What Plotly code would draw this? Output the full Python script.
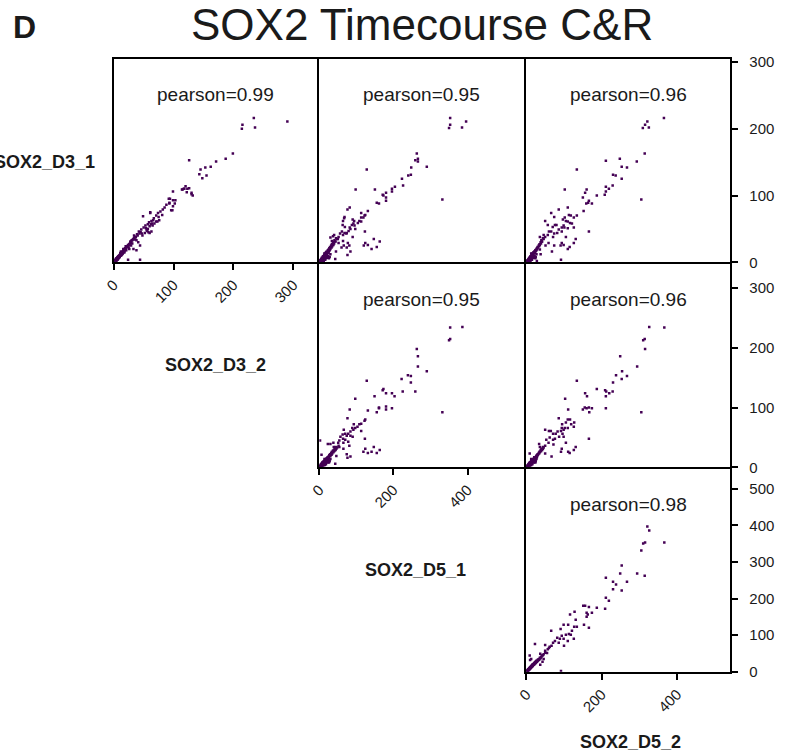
import plotly.graph_objects as go

# ---- sample names and correlation labels ----
samples = ["SOX2_D3_1", "SOX2_D3_2", "SOX2_D5_1", "SOX2_D5_2"]
pearson = [0.99, 0.95, 0.96, 0.95, 0.96, 0.98]

# ---- low-signal regions shared by all samples (D3_1, D3_2, D5_1, D5_2) ----
low_d3_1 = [1, 2, 2, 3, 3, 4, 4, 5, 5, 6, 6, 7, 7, 8, 8, 9, 9, 10, 10, 11, 11, 12, 12, 13, 13, 14, 15, 15, 16, 17,
            18, 18, 19, 20, 21, 22, 23, 24, 25, 26, 27, 28, 30, 31, 33, 35, 36, 38, 1, 2, 3, 4, 5, 6, 7, 8, 9, 10, 12, 14,
            1, 3, 5, 2, 4, 6, 8, 3, 7, 10, 2, 5, 9, 4, 11, 6, 13, 8, 15, 12]
low_d3_2 = [1, 1, 3, 2, 4, 3, 5, 4, 6, 5, 7, 6, 8, 7, 9, 8, 10, 9, 11, 10, 12, 11, 13, 12, 14, 13, 14, 16, 15, 16,
            17, 19, 18, 19, 20, 21, 22, 23, 24, 25, 26, 27, 28, 29, 31, 33, 34, 36, 2, 3, 2, 5, 4, 7, 6, 9, 8, 11, 11, 13,
            2, 4, 4, 3, 6, 5, 9, 5, 8, 12, 4, 7, 10, 6, 13, 8, 14, 10, 17, 14]
low_d5_1 = [2, 1, 4, 3, 6, 4, 7, 9, 6, 10, 8, 11, 9, 13, 10, 15, 12, 14, 17, 13, 18, 16, 19, 15, 21, 22, 18, 24, 20, 26,
            23, 28, 25, 30, 27, 33, 29, 35, 32, 38, 34, 40, 37, 44, 41, 48, 45, 52, 3, 5, 2, 8, 5, 12, 7, 14, 10, 16, 20, 25,
            6, 11, 15, 9, 13, 18, 20, 4, 22, 17, 12, 8, 24, 16, 19, 26, 14, 28, 23, 30]
low_d5_2 = [1, 2, 3, 4, 5, 5, 8, 8, 7, 9, 9, 10, 10, 12, 11, 14, 13, 15, 16, 14, 17, 17, 18, 16, 20, 21, 19, 23, 21, 25,
            24, 27, 26, 29, 28, 31, 30, 34, 33, 36, 35, 39, 38, 42, 40, 46, 44, 50, 4, 4, 3, 7, 6, 11, 8, 13, 11, 15, 18, 23,
            5, 10, 13, 9, 12, 16, 19, 6, 20, 15, 11, 8, 22, 15, 17, 24, 13, 25, 21, 27]
low = {"SOX2_D3_1": low_d3_1, "SOX2_D3_2": low_d3_2, "SOX2_D5_1": low_d5_1, "SOX2_D5_2": low_d5_2}

# ---- higher-signal regions per sample pair: (x value, y value) ----
d3_2_vs_d3_1 = [
    (234, 216), (290, 211), (215, 206), (214, 200), (236, 202), (199, 163), (187, 155), (171, 151), (162, 143),
    (153, 142), (145, 139), (126, 153), (143, 132), (155, 130), (148, 126), (130, 104), (132, 100), (126, 111),
    (123, 110), (118, 110), (115, 109), (99, 106), (103, 93), (94, 95), (93, 89), (99, 84), (96, 78), (82, 79),
    (81, 71), (75, 68), (73, 61), (49, 69), (61, 74), (66, 63), (68, 58), (60, 54), (57, 50), (63, 46), (45, 45),
    (40, 40), (35, 38), (32, 34), (29, 30), (24, 26), (19, 21), (12, 16), (44, 25), (24, 4), (44, 4), (34, 40),
    (52, 44), (56, 47), (60, 44), (48, 40), (38, 33), (41, 30), (29, 25), (26, 20), (21, 18), (15, 13), (10, 10),
    (6, 7), (61, 75), (76, 63), (71, 61), (64, 58), (57, 57), (65, 55), (55, 48), (58, 45), (43, 43), (37, 38),
    (30, 33), (33, 20), (38, 18), (99, 93), (92, 95), (93, 88), (98, 78), (102, 88), (114, 109), (120, 114),
    (122, 105), (130, 102), (117, 110), (50, 52), (53, 55), (63, 62), (67, 66), (71, 70), (74, 74), (78, 76),
    (85, 82), (88, 86), (20, 24), (25, 22), (16, 20), (28, 31), (36, 34), (42, 46), (47, 43), (54, 51), (11, 14),
    (18, 15), (31, 28), (39, 42), (46, 49), (59, 60), (62, 57),
]
d5_1_vs_d3_1 = [
    (353, 216), (353, 206), (350, 201), (385, 202), (396, 211), (263, 163), (266, 155), (259, 153), (266, 151),
    (290, 143), (248, 142), (247, 131), (240, 130), (223, 125), (226, 115), (204, 113), (196, 110), (196, 106),
    (180, 104), (171, 101), (173, 100), (180, 97), (180, 92), (155, 89), (161, 88), (128, 139), (150, 109),
    (98, 109), (332, 94), (131, 77), (113, 74), (124, 71), (122, 70), (119, 67), (113, 67), (82, 82), (76, 79),
    (68, 68), (67, 66), (90, 64), (94, 62), (108, 62), (104, 59), (113, 61), (64, 62), (63, 56), (69, 53),
    (82, 52), (88, 56), (92, 58), (95, 55), (84, 50), (97, 50), (79, 47), (74, 44), (68, 44), (61, 46), (56, 43),
    (64, 41), (73, 43), (90, 38), (123, 46), (40, 41), (30, 37), (37, 39), (50, 35), (64, 32), (52, 29), (41, 31),
    (34, 32), (77, 29), (81, 25), (66, 25), (74, 22), (60, 22), (45, 16), (84, 16), (76, 11), (124, 29),
    (131, 26), (147, 35), (163, 31), (155, 23), (141, 20), (120, 25), (43, 5),
]
d5_2_vs_d3_1 = [
    (365, 216), (321, 211), (315, 206), (325, 202), (309, 201), (314, 163), (293, 151), (248, 155), (211, 152),
    (253, 143), (267, 142), (134, 139), (230, 131), (237, 130), (253, 125), (229, 115), (211, 113), (219, 110),
    (211, 106), (208, 101), (187, 100), (160, 109), (156, 104), (102, 109), (150, 97), (166, 92), (164, 89),
    (159, 88), (174, 88), (305, 94), (152, 77), (110, 82), (86, 79), (134, 70), (113, 71), (118, 70), (126, 67),
    (102, 67), (66, 74), (74, 68), (97, 64), (105, 62), (110, 61), (116, 59), (121, 58), (50, 62), (57, 56),
    (76, 56), (80, 56), (70, 53), (99, 55), (94, 52), (110, 51), (126, 52), (101, 52), (86, 49), (94, 46),
    (82, 44), (60, 46), (66, 46), (74, 43), (57, 41), (46, 41), (71, 38), (166, 46), (105, 38), (131, 35),
    (126, 29), (94, 29), (91, 25), (99, 26), (115, 23), (110, 20), (74, 25), (68, 16), (51, 25), (38, 12),
    (36, 38), (92, 4), (28, 2), (41, 31), (36, 19), (59, 29),
]
d5_1_vs_d3_2 = [
    (386, 235), (353, 234), (353, 215), (350, 213), (263, 198), (266, 186), (266, 169), (290, 161), (222, 148),
    (128, 145), (239, 154), (247, 153), (247, 142), (225, 127), (259, 127), (171, 129), (173, 131), (149, 119),
    (180, 124), (196, 124), (203, 119), (97, 115), (332, 92), (161, 100), (161, 99), (180, 102), (180, 97),
    (196, 99), (155, 92), (131, 95), (82, 97), (76, 82), (124, 80), (122, 78), (113, 73), (108, 72), (103, 68),
    (93, 72), (89, 66), (97, 66), (113, 61), (92, 63), (84, 60), (78, 56), (66, 63), (63, 55), (70, 56), (74, 53),
    (84, 53), (64, 48), (57, 51), (54, 45), (70, 46), (78, 43), (90, 51), (123, 48), (81, 36), (65, 41), (51, 41),
    (54, 34), (38, 41), (23, 39), (30, 39), (39, 34), (46, 31), (41, 28), (65, 31), (46, 19), (76, 16), (84, 18),
    (74, 22), (124, 31), (147, 34), (163, 29), (119, 26), (131, 24), (141, 26), (155, 24), (43, 6), (2, 45),
    (6, 21),
]
d5_2_vs_d3_2 = [
    (326, 235), (366, 234), (310, 213), (314, 215), (315, 198), (249, 186), (294, 169), (254, 161), (267, 153),
    (238, 154), (253, 148), (134, 145), (230, 142), (187, 131), (209, 129), (212, 127), (229, 127), (220, 124),
    (211, 119), (156, 124), (161, 119), (103, 115), (150, 97), (155, 100), (160, 99), (166, 100), (174, 99),
    (167, 92), (211, 99), (305, 92), (111, 97), (86, 82), (116, 80), (110, 80), (127, 75), (105, 75), (95, 72),
    (119, 72), (126, 68), (110, 66), (102, 66), (94, 66), (99, 63), (83, 60), (92, 61), (71, 56), (78, 56),
    (50, 63), (60, 61), (65, 61), (87, 51), (99, 51), (96, 56), (76, 48), (71, 46), (62, 50), (53, 46), (59, 41),
    (72, 38), (105, 41), (166, 48), (131, 34), (126, 29), (94, 31), (92, 26), (111, 26), (115, 24), (67, 18),
    (50, 23), (44, 31), (34, 39), (36, 34), (39, 29), (9, 23), (28, 17),
]
d5_2_vs_d5_1 = [
    (321, 397), (326, 386), (366, 353), (315, 353), (310, 350), (305, 331), (253, 290), (249, 268), (294, 268),
    (314, 262), (211, 257), (230, 246), (267, 246), (238, 238), (230, 225), (253, 222), (211, 202), (219, 194),
    (209, 172), (151, 180), (156, 180), (166, 177), (187, 175), (160, 161), (163, 156), (174, 161), (160, 150),
    (128, 164), (116, 156), (131, 142), (111, 128), (99, 128), (127, 123), (153, 128), (166, 120), (134, 123),
    (91, 117), (121, 112), (105, 101), (113, 103), (118, 101), (126, 90), (66, 112), (94, 98), (110, 84),
    (99, 90), (89, 90), (82, 93), (100, 71), (86, 79), (71, 79), (76, 84), (67, 71), (62, 68), (50, 73), (60, 65),
    (57, 61), (50, 57), (55, 51), (37, 49), (23, 76), (46, 35), (37, 19), (43, 27), (9, 44), (13, 35), (92, 2),
    (10, 32),
]

# panel layout: (row, col, x sample, y sample, higher-signal pairs)
panels = [
    (1, 1, "SOX2_D3_2", "SOX2_D3_1", d3_2_vs_d3_1),
    (1, 2, "SOX2_D5_1", "SOX2_D3_1", d5_1_vs_d3_1),
    (1, 3, "SOX2_D5_2", "SOX2_D3_1", d5_2_vs_d3_1),
    (2, 2, "SOX2_D5_1", "SOX2_D3_2", d5_1_vs_d3_2),
    (2, 3, "SOX2_D5_2", "SOX2_D3_2", d5_2_vs_d3_2),
    (3, 3, "SOX2_D5_2", "SOX2_D5_1", d5_2_vs_d5_1),
]

# axis extents for each sample
axis_max = {"SOX2_D3_1": 304, "SOX2_D3_2": 340, "SOX2_D5_1": 553, "SOX2_D5_2": 541}

W, H = 786, 755
LW = 2.0  # frame line width; neighbouring plot areas are spaced by one line width so shared edges coincide
col_px = {1: (113.7, 317.3), 2: (319.3, 524.3), 3: (526.3, 730.3)}
row_px = {1: (59.3, 262.3), 2: (264.3, 467.3), 3: (469.3, 671.7)}

FONT = "Liberation Sans, Arial, sans-serif"
INK = "#1a1a1a"
POINT = "#440154"

fig = go.Figure()
layout = dict(
    template="none",
    width=W, height=H,
    margin=dict(l=0, r=0, t=0, b=0, autoexpand=False),
    paper_bgcolor="white", plot_bgcolor="white",
    showlegend=False,
    font=dict(family=FONT, color=INK),
)
annotations = []

x_ticks = {1: [0, 100, 200, 300], 4: [0, 200, 400], 6: [0, 200, 400]}
y_ticks = {3: [0, 100, 200, 300], 5: [0, 100, 200, 300], 6: [0, 100, 200, 300, 400, 500]}

for i, (row, col, xs, ys, pairs) in enumerate(panels, start=1):
    sfx = "" if i == 1 else str(i)
    px_vals = [p[0] for p in pairs] + low[xs]
    py_vals = [p[1] for p in pairs] + low[ys]
    fig.add_trace(go.Scatter(
        x=px_vals, y=py_vals, mode="markers",
        marker=dict(symbol="square", size=2.5, color=POINT, line=dict(width=0)),
        xaxis=f"x{sfx}", yaxis=f"y{sfx}", hoverinfo="skip",
    ))
    x0, x1 = col_px[col]
    y0, y1 = row_px[row]
    xa = dict(
        domain=[x0 / W, x1 / W], anchor=f"y{sfx}", range=[0, axis_max[xs]],
        showgrid=False, zeroline=False, showline=True, mirror=True, automargin=False,
        linecolor="black", linewidth=LW,
    )
    if i in x_ticks:
        xa.update(tickvals=x_ticks[i], ticks="outside", ticklen=6, tickwidth=1.5,
                  tickcolor="black", tickangle=-45, showticklabels=True,
                  tickfont=dict(size=15, family=FONT, color=INK))
    else:
        xa.update(showticklabels=False, ticks="")
    ya = dict(
        domain=[1 - y1 / H, 1 - y0 / H], anchor=f"x{sfx}", range=[0, axis_max[ys]],
        showgrid=False, zeroline=False, showline=True, mirror=True, automargin=False,
        linecolor="black", linewidth=LW,
    )
    if i in y_ticks:
        ya.update(side="right", tickvals=y_ticks[i], ticks="outside", ticklen=6, tickwidth=1.5,
                  tickcolor="black", showticklabels=True, ticklabelstandoff=8,
                  tickfont=dict(size=15, family=FONT, color=INK))
    else:
        ya.update(showticklabels=False, ticks="")
    layout[f"xaxis{sfx}"] = xa
    layout[f"yaxis{sfx}"] = ya
    annotations.append(dict(
        text=f"pearson={pearson[i - 1]:.2f}", xref=f"x{sfx} domain", yref=f"y{sfx} domain",
        x=0.5, y=0.826, xanchor="center", yanchor="middle", showarrow=False,
        font=dict(size=19, family=FONT, color=INK),
    ))

# title and panel letter
annotations.append(dict(text="SOX2 Timecourse C&R", xref="paper", yref="paper",
                        x=422 / W, y=1 - 24 / H, xanchor="center", yanchor="middle",
                        showarrow=False, font=dict(size=44, family=FONT, color=INK)))
annotations.append(dict(text="<b>D</b>", xref="paper", yref="paper",
                        x=11 / W, y=1 - 27 / H, xanchor="left", yanchor="middle",
                        showarrow=False, font=dict(size=32, family=FONT, color=INK)))

# sample names along the diagonal
diag_labels = [
    (samples[0], 97, 161.7, "right"),
    (samples[1], 215.5, 365, "center"),
    (samples[2], 415, 570, "center"),
    (samples[3], 630.5, 741.7, "center"),
]
for name, lx, ly, anchor in diag_labels:
    annotations.append(dict(text=f"<b>{name}</b>", xref="paper", yref="paper",
                            x=lx / W, y=1 - ly / H, xanchor=anchor, yanchor="middle",
                            showarrow=False, font=dict(size=18, family=FONT, color=INK)))

layout["annotations"] = annotations
fig.update_layout(**layout)
fig.write_html("out.html")
